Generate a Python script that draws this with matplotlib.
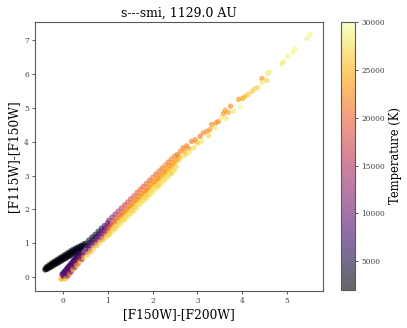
import numpy as np
import matplotlib
matplotlib.use("Agg")
import matplotlib.pyplot as plt

plt.rcParams['font.family'] = ['DejaVu Serif']

# (colour F150W-F200W, colour F115W-F150W, temperature K)
black_branch = [
    (-0.38, 0.30, 2300), (-0.32, 0.36, 2300), (-0.26, 0.42, 2400), (-0.20, 0.47, 2400),
    (-0.14, 0.52, 2500), (-0.08, 0.57, 2500), (-0.02, 0.62, 2600), (0.04, 0.67, 2700),
    (0.10, 0.72, 2800), (0.16, 0.77, 2900), (0.22, 0.82, 3000), (0.28, 0.86, 3100),
    (0.34, 0.90, 3300), (0.40, 0.94, 3500), (0.46, 0.98, 3800),
    (-0.36, 0.27, 2200), (-0.30, 0.33, 2200), (-0.24, 0.39, 2300), (-0.18, 0.44, 2300),
    (-0.12, 0.49, 2400), (-0.06, 0.54, 2400), (0.00, 0.59, 2500), (0.06, 0.64, 2600),
    (0.12, 0.69, 2700), (0.18, 0.74, 2800), (0.24, 0.79, 2900), (0.30, 0.83, 3100),
    (0.36, 0.87, 3300), (0.42, 0.92, 3500),
    (-0.41, 0.24, 2200), (-0.35, 0.30, 2200), (-0.29, 0.35, 2300), (-0.23, 0.40, 2300),
    (-0.17, 0.45, 2400), (-0.11, 0.50, 2400), (-0.05, 0.55, 2500), (0.01, 0.59, 2600),
    (0.07, 0.64, 2700), (0.13, 0.69, 2800), (0.19, 0.73, 2900), (0.25, 0.78, 3000),
    (0.31, 0.82, 3200), (0.37, 0.86, 3400), (0.43, 0.91, 3600),
    (-0.37, 0.23, 2200), (-0.31, 0.28, 2200), (-0.25, 0.33, 2300), (-0.19, 0.37, 2300),
    (-0.13, 0.42, 2400), (-0.07, 0.47, 2400), (-0.01, 0.51, 2500), (0.05, 0.56, 2600),
    (0.11, 0.61, 2700), (0.17, 0.65, 2800), (0.23, 0.70, 2900), (0.29, 0.75, 3000),
    (0.35, 0.79, 3200), (0.41, 0.84, 3400),
    (-0.40, 0.21, 2200), (-0.34, 0.24, 2200), (-0.28, 0.28, 2300), (-0.22, 0.33, 2300),
    (-0.16, 0.38, 2400), (-0.10, 0.42, 2400), (-0.04, 0.47, 2500), (0.02, 0.52, 2600),
    (0.08, 0.56, 2700), (0.14, 0.61, 2800), (0.20, 0.66, 2900), (0.26, 0.71, 3100),
    (0.32, 0.75, 3300), (0.38, 0.80, 3600),
]

lower_branch = [
    (-0.05, -0.06, 25000), (-0.02, -0.03, 24000), (0.02, -0.05, 26000),
    (0.00, 0.02, 9000), (0.04, 0.08, 8500), (0.08, 0.14, 9000), (0.12, 0.21, 9500),
    (0.16, 0.27, 9000), (0.20, 0.33, 9500), (0.24, 0.39, 10000), (0.28, 0.45, 9500),
    (0.32, 0.52, 10000), (0.36, 0.58, 10500), (0.40, 0.64, 10000), (0.44, 0.70, 11000),
    (-0.03, 0.08, 8500), (0.01, 0.14, 8000), (0.05, 0.20, 8500), (0.09, 0.27, 8000),
    (0.13, 0.33, 8500), (0.17, 0.39, 8000), (0.21, 0.46, 8500), (0.25, 0.52, 8000),
    (0.29, 0.58, 7500), (0.33, 0.64, 7000), (0.37, 0.70, 6500),
    (-0.01, 0.11, 8000), (0.03, 0.17, 7500), (0.07, 0.23, 8000), (0.11, 0.30, 7500),
    (0.15, 0.36, 8000), (0.19, 0.42, 7500), (0.23, 0.49, 7000), (0.27, 0.55, 7000),
    (0.31, 0.61, 6500), (0.35, 0.67, 6000),
    (0.03, 0.04, 10000), (0.07, 0.10, 9500), (0.11, 0.17, 10000), (0.15, 0.23, 9500),
    (0.19, 0.29, 10500), (0.23, 0.35, 10000), (0.27, 0.42, 11000), (0.31, 0.48, 10500),
    (0.35, 0.54, 11500), (0.39, 0.60, 12000), (0.43, 0.66, 11500),
    (0.06, -0.04, 26000), (0.10, 0.03, 12000), (0.14, 0.09, 22000), (0.18, 0.15, 11000),
    (0.22, 0.22, 26000), (0.26, 0.28, 12000), (0.30, 0.34, 25000), (0.34, 0.40, 20000),
    (0.38, 0.46, 27000), (0.42, 0.52, 13000), (0.46, 0.58, 26000),
]

merge_zone = [
    (0.50, 1.00, 3000), (0.57, 1.09, 3200), (0.64, 1.18, 3500), (0.71, 1.26, 4000),
    (0.78, 1.35, 4500), (0.85, 1.44, 5500), (0.92, 1.52, 6500), (0.99, 1.60, 8500),
    (0.53, 0.93, 3500), (0.60, 1.02, 4000), (0.67, 1.11, 4500), (0.74, 1.20, 5000),
    (0.81, 1.29, 6000), (0.88, 1.38, 7000), (0.95, 1.46, 9000), (1.02, 1.54, 11000),
    (0.50, 0.84, 6000), (0.57, 0.93, 7000), (0.64, 1.02, 8000), (0.71, 1.10, 8500),
    (0.78, 1.19, 9000), (0.85, 1.28, 10000), (0.92, 1.36, 12000), (0.99, 1.45, 14000),
    (0.51, 0.74, 10000), (0.58, 0.83, 11000), (0.65, 0.92, 12000), (0.72, 1.01, 13000),
    (0.79, 1.09, 12000), (0.86, 1.18, 14000), (0.93, 1.26, 15000), (1.00, 1.35, 17000),
    (0.54, 0.66, 26000), (0.61, 0.75, 24000), (0.68, 0.84, 27000), (0.75, 0.93, 25000),
    (0.82, 1.02, 27000), (0.89, 1.11, 24000), (0.96, 1.19, 27000), (1.03, 1.28, 26000),
]

band_x = [1.02, 1.09, 1.16, 1.23, 1.30, 1.37, 1.44, 1.51, 1.58, 1.65, 1.72,
          1.79, 1.86, 1.93, 2.00, 2.07, 2.14, 2.21, 2.28, 2.35, 2.42, 2.49]
band_top = [1.68, 1.77, 1.86, 1.95, 2.04, 2.13, 2.22, 2.31, 2.40, 2.50, 2.59,
            2.68, 2.77, 2.86, 2.95, 3.04, 3.13, 3.22, 3.31, 3.40, 3.49, 3.58]
band_top_t = [11000, 12000, 13000, 15000, 16000, 17000, 18000, 18000, 19000, 19000, 20000,
              19000, 20000, 20000, 21000, 20000, 21000, 21000, 22000, 21000, 22000, 22000]
band_upper = [1.56, 1.65, 1.74, 1.83, 1.92, 2.01, 2.10, 2.19, 2.28, 2.38, 2.47,
              2.56, 2.65, 2.74, 2.83, 2.92, 3.01, 3.10, 3.19, 3.29, 3.38, 3.47]
band_upper_t = [14000, 16000, 18000, 19000, 20000, 20000, 21000, 21000, 22000, 21000, 22000,
                22000, 21000, 22000, 22000, 23000, 22000, 22000, 23000, 22000, 23000, 23000]
band_mid = [1.45, 1.54, 1.63, 1.72, 1.81, 1.90, 1.99, 2.08, 2.17, 2.27, 2.36,
            2.45, 2.54, 2.63, 2.72, 2.81, 2.90, 2.99, 3.08, 3.18, 3.27, 3.36]
band_mid_t = [20000, 21000, 22000, 23000, 22000, 23000, 24000, 23000, 24000, 23000, 24000,
              24000, 23000, 24000, 25000, 24000, 23000, 25000, 24000, 25000, 24000, 25000]
band_lower = [1.35, 1.44, 1.53, 1.62, 1.71, 1.80, 1.89, 1.98, 2.07, 2.17, 2.26,
              2.35, 2.44, 2.53, 2.62, 2.71, 2.80, 2.89, 2.98, 3.08, 3.17, 3.26]
band_lower_t = [25000, 26000, 25000, 26000, 27000, 26000, 26000, 27000, 26000, 27000, 26000,
                27000, 26000, 27000, 27000, 26000, 27000, 27000, 26000, 27000, 27000, 27000]
band_bottom = [1.24, 1.33, 1.42, 1.51, 1.60, 1.69, 1.78, 1.87, 1.96, 2.06, 2.15,
               2.24, 2.33, 2.42, 2.51, 2.60, 2.69, 2.78, 2.87, 2.97, 3.06, 3.15]
band_bottom_t = [27000, 28000, 27000, 28000, 28000, 27000, 28000, 28000, 27000, 28000, 28000,
                 28000, 27000, 28000, 28000, 28000, 27000, 28000, 28000, 28000, 27000, 28000]

sparse_orange = [
    (2.55, 3.62, 21000), (2.62, 3.72, 22000), (2.68, 3.82, 21000), (2.76, 3.88, 22000),
    (2.87, 4.01, 21000), (2.95, 4.06, 22000), (3.06, 4.16, 21000), (3.13, 4.26, 22000),
    (3.21, 4.31, 22000), (3.28, 4.36, 23000), (3.32, 4.51, 22000), (3.42, 4.56, 22000),
    (3.47, 4.60, 23000), (3.58, 4.83, 22000), (3.62, 4.93, 23000), (3.69, 4.87, 24000),
    (3.74, 5.05, 22000), (3.92, 5.25, 23000), (4.01, 5.28, 24000), (4.06, 5.34, 25000),
    (4.13, 5.40, 26000), (4.22, 5.49, 26000), (4.35, 5.60, 27000), (4.44, 5.87, 23000),
    (2.60, 3.55, 23000), (2.71, 3.70, 24000), (2.80, 3.80, 23000), (2.99, 3.98, 24000),
]
sparse_yellow = [
    (2.58, 3.45, 27000), (2.66, 3.55, 28000), (2.74, 3.62, 27000), (2.82, 3.70, 28000),
    (2.92, 3.82, 27000), (3.02, 3.96, 28000), (3.10, 4.02, 28000), (3.25, 4.18, 27000),
    (3.39, 4.41, 28000), (3.54, 4.73, 28000), (3.65, 4.69, 28000), (3.80, 4.90, 28000),
    (3.95, 5.02, 29000), (4.28, 5.57, 27000), (4.44, 5.75, 28000), (4.55, 5.81, 27000),
    (4.57, 6.02, 28000), (4.62, 6.05, 29000), (4.89, 6.31, 28000), (4.93, 6.37, 29000),
    (5.02, 6.52, 29000), (5.13, 6.64, 29000), (5.18, 6.73, 29000), (5.45, 7.05, 29000),
    (5.52, 7.17, 29000),
]

# collect everything into flat arrays
pts = black_branch + lower_branch + merge_zone + sparse_orange + sparse_yellow
xs = [p[0] for p in pts]
ys = [p[1] for p in pts]
ts = [p[2] for p in pts]
offsets = [0.0, 0.035, 0.0, 0.035, 0.0]
rows = [(band_top, band_top_t), (band_upper, band_upper_t), (band_mid, band_mid_t),
        (band_lower, band_lower_t), (band_bottom, band_bottom_t)]
for off, (row_y, row_t) in zip(offsets, rows):
    xs += [x + off for x in band_x]
    ys += row_y
    ts += row_t

fig = plt.figure(figsize=(4.07, 3.28), dpi=100)
ax = fig.add_axes([0.086, 0.113, 0.708, 0.820])
sc = ax.scatter(xs, ys, c=ts, cmap='inferno', vmin=2000, vmax=30000,
                s=15, alpha=0.6, linewidths=0)

ax.set_xlim(-0.63, 5.81)
ax.set_ylim(-0.41, 7.54)
ax.set_xticks([0, 1, 2, 3, 4, 5])
ax.set_yticks([0, 1, 2, 3, 4, 5, 6, 7])
ax.tick_params(labelsize=5.3, length=2.5, width=0.6, pad=2, colors='0.25')
for sp in ax.spines.values():
    sp.set_color('0.35')
    sp.set_linewidth(0.8)

ax.set_title('s---smi, 1129.0 AU', fontsize=9, pad=4)
ax.set_xlabel('[F150W]-[F200W]', fontsize=8.8, labelpad=2)
ax.set_ylabel('[F115W]-[F150W]', fontsize=8.8, labelpad=3)

cax = fig.add_axes([0.838, 0.116, 0.034, 0.817])
cb = fig.colorbar(sc, cax=cax, ticks=[5000, 10000, 15000, 20000, 25000, 30000])
cb.ax.tick_params(labelsize=5.3, length=2.5, width=0.6, pad=2, colors='0.25')
cb.outline.set_edgecolor('0.35')
cb.outline.set_linewidth(0.8)
cb.set_label('Temperature (K)', fontsize=8.3, labelpad=3)

fig.savefig('out.png', dpi=100)
